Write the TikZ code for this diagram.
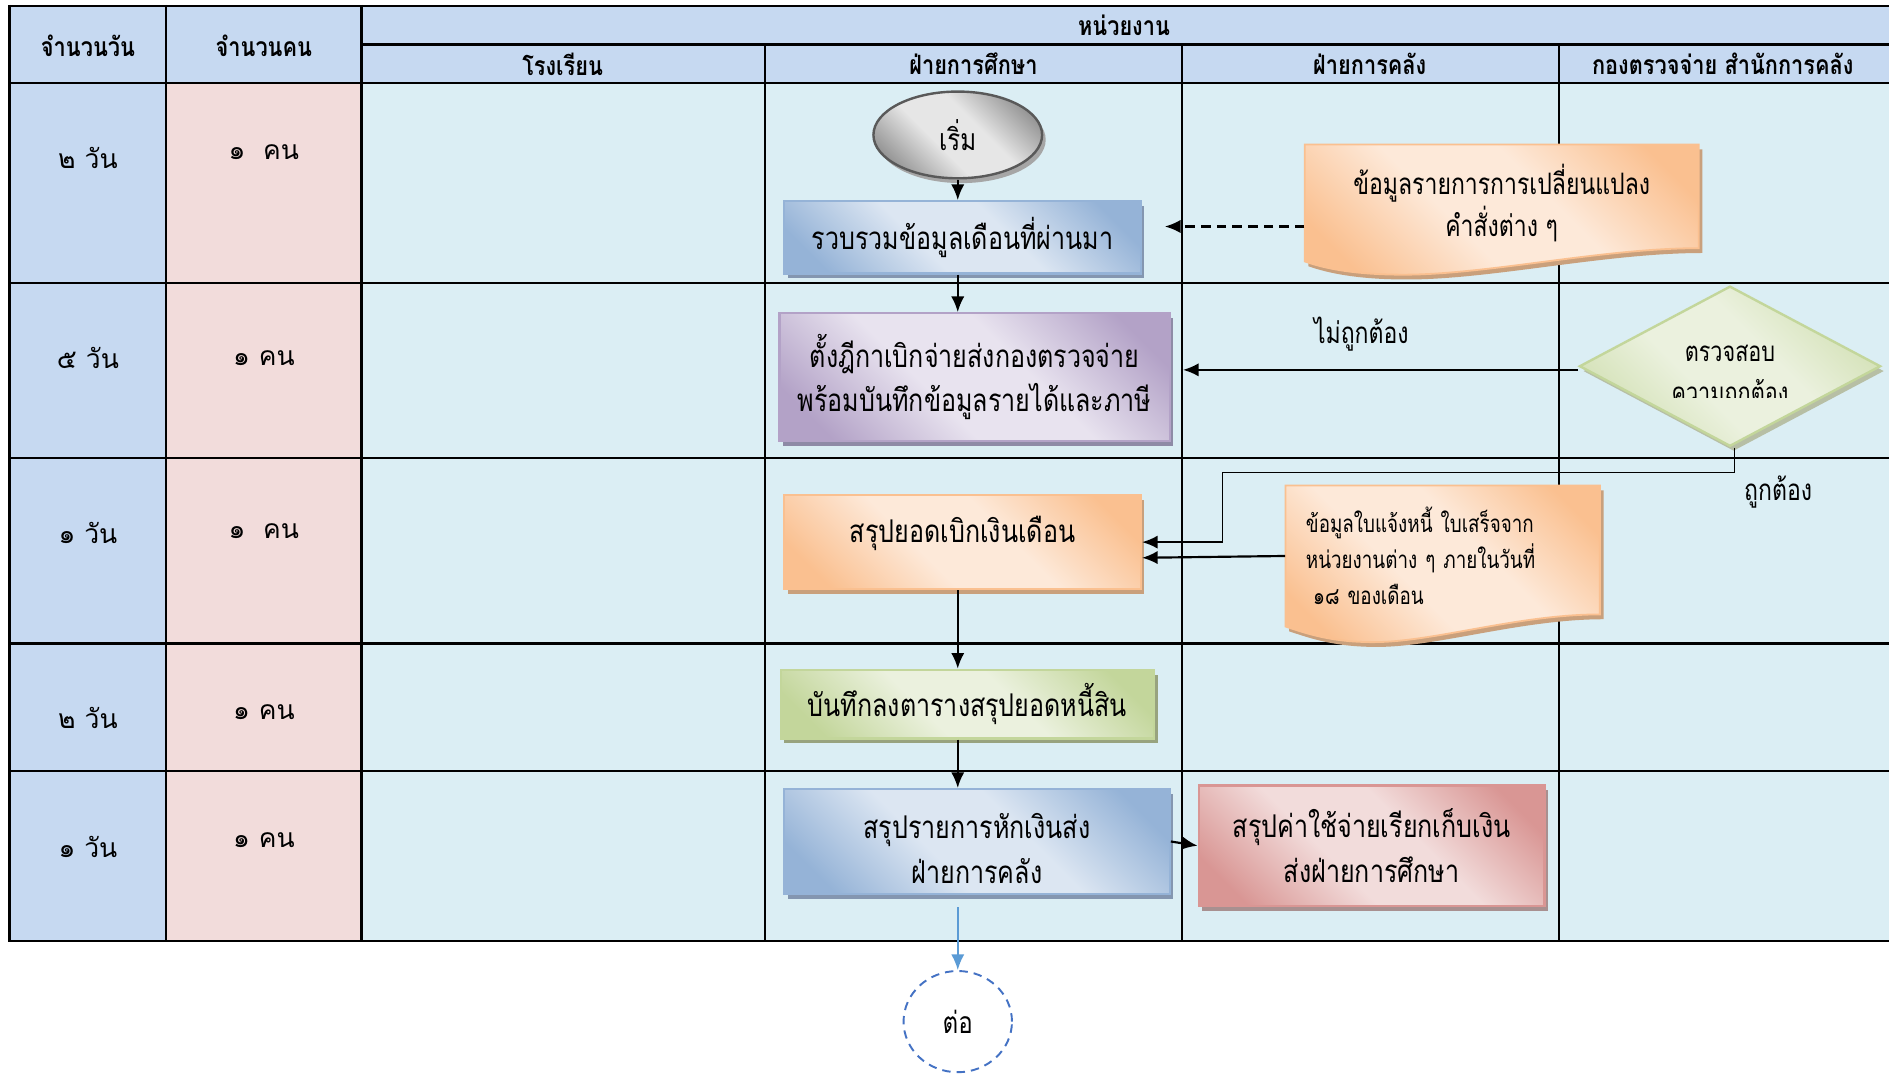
\documentclass[tikz,border=0pt]{standalone}
\usepackage{fontspec}
\newfontfamily\thfont[Script=Thai]{Loma}
\newfontfamily\thcond[Script=Thai,FakeStretch=0.78]{Loma}
\newfontfamily\thbox[Script=Thai,FakeStretch=0.80]{Loma}
\newfontfamily\thhead[Script=Thai,FakeStretch=0.82]{Loma}
\usetikzlibrary{shadows,arrows.meta,shapes.geometric,calc}
\definecolor{hdblue}{HTML}{C6D9F1}
\definecolor{pinkc}{HTML}{F2DCDB}
\definecolor{cyanc}{HTML}{DBEEF4}
\definecolor{bluelt}{HTML}{DCE6F2}
\definecolor{bluedk}{HTML}{95B3D7}
\definecolor{bluesh}{HTML}{8496B0}
\definecolor{purlt}{HTML}{E8E3EF}
\definecolor{purdk}{HTML}{B3A2C7}
\definecolor{pursh}{HTML}{8E8AA6}
\definecolor{orglt}{HTML}{FDE9D9}
\definecolor{orgdk}{HTML}{FAC090}
\definecolor{orgsh}{HTML}{C9A07C}
\definecolor{grnlt}{HTML}{EBF1DE}
\definecolor{grndk}{HTML}{C3D69B}
\definecolor{grnsh}{HTML}{98A37E}
\definecolor{redlt}{HTML}{F2DCDB}
\definecolor{reddk}{HTML}{D99694}
\definecolor{redsh}{HTML}{A89090}
\definecolor{graylt}{HTML}{E6E6E6}
\definecolor{graydk}{HTML}{8C8C8C}
\definecolor{arrblue}{HTML}{5B9BD5}
\definecolor{dashblue}{HTML}{4472C4}
\colorlet{diagA}{white}
\colorlet{diagB}{gray}
\pgfdeclarehorizontalshading[diagA,diagB]{diagsh}{100bp}{color(0bp)=(diagB); color(22bp)=(diagB); color(42bp)=(diagA); color(58bp)=(diagA); color(78bp)=(diagB); color(100bp)=(diagB)}
\tikzset{
  gridthick/.style={line width=2pt},
  gridthin/.style={line width=1.2pt},
  hdtext/.style={font=\fontsize{22}{25}\selectfont\thhead\bfseries},
  rowtext/.style={font=\fontsize{22}{25}\selectfont\thfont},
  boxfont/.style={font=\fontsize{26}{37}\selectfont\thbox},
  boxbase/.style={rectangle, line width=1.8pt, align=center, inner sep=0pt, boxfont},
  diag/.style 2 args={/utils/exec={\colorlet{diagA}{#1}\colorlet{diagB}{#2}},
    shade, shading=diagsh, shading angle=45},
  bluebox/.style={boxbase, draw=bluedk, diag={bluelt}{bluedk},
    general shadow={fill=bluesh, shadow xshift=3pt, shadow yshift=-4pt}},
  purbox/.style={boxbase, draw=purdk, diag={purlt}{purdk},
    general shadow={fill=pursh, shadow xshift=3pt, shadow yshift=-4pt}},
  orgbox/.style={boxbase, draw=orgdk, diag={orglt}{orgdk},
    general shadow={fill=orgsh, shadow xshift=3pt, shadow yshift=-4pt}},
  grnbox/.style={boxbase, draw=grndk, diag={grnlt}{grndk},
    general shadow={fill=grnsh, shadow xshift=3pt, shadow yshift=-4pt}},
  redbox/.style={boxbase, draw=reddk, diag={redlt}{reddk},
    general shadow={fill=redsh, shadow xshift=3pt, shadow yshift=-4pt}},
  docshape/.style={draw=orgdk, line width=1.5pt, diag={orglt}{orgdk},
    general shadow={fill=orgsh, shadow xshift=3pt, shadow yshift=-4pt}},
  arr/.style={line width=1.8pt, -{Latex[length=13pt,width=11pt]}},
  thinarr/.style={line width=1pt},
}
\begin{document}
\begin{tikzpicture}[x=1pt,y=-1pt]
\useasboundingbox (0,0) rectangle (1568,891);
% ---------- table backgrounds
\fill[hdblue] (8,5) rectangle (1580,69);
\fill[hdblue] (8,69) rectangle (138,781);
\fill[pinkc] (138,69) rectangle (300,781);
\fill[cyanc] (300,69) rectangle (1580,781);
% ---------- grid
\foreach \yy in {5,69,235,380,534,640,781}
  \draw[gridthick] (8,\yy) -- (1580,\yy);
\draw[gridthick] (300,37) -- (1580,37);
\foreach \xx in {8,138,300}
  \draw[gridthick] (\xx,4) -- (\xx,782);
\foreach \xx in {635,981,1294}
  \draw[gridthin] (\xx,37) -- (\xx,781);
% ---------- header texts
\node[hdtext] (hday) at (73,38) {จำนวนวัน};
\node[hdtext] (hppl) at (219,38) {จำนวนคน};
\node[hdtext] (hunit) at (933,21) {หน่วยงาน};
\node[hdtext] (hsch) at (467,53) {โรงเรียน};
\node[hdtext] (hedu) at (808,53) {ฝ่ายการศึกษา};
\node[hdtext] (hfin) at (1137,53) {ฝ่ายการคลัง};
\node[hdtext] (hchk) at (1430,53) {กองตรวจจ่าย สำนักการคลัง};
% ---------- row labels
\node[rowtext] (d1) at (73,131) {๒ วัน};
\node[rowtext] (d2) at (73,297) {๕ วัน};
\node[rowtext] (d3) at (73,442) {๑ วัน};
\node[rowtext] (d4) at (73,596) {๒ วัน};
\node[rowtext] (d5) at (73,703) {๑ วัน};
\node[rowtext] (p1) at (219,126) {๑~~คน};
\node[rowtext] (p2) at (219,297) {๑ คน};
\node[rowtext] (p3) at (219,441) {๑~~คน};
\node[rowtext] (p4) at (219,591) {๑ คน};
\node[rowtext] (p5) at (219,697) {๑ คน};
% ---------- documents (wavy bottom)
\path[docshape] (1083,120) -- (1410,120) -- (1410,206)
  .. controls (1330,206) and (1235,228) .. (1165,228)
  .. controls (1125,228) and (1100,223) .. (1083,217) -- cycle;
\node[font=\fontsize{24.5}{35}\selectfont\thcond, align=center, minimum width=327pt,
  minimum height=97pt, inner sep=0pt] (doc1) at (1246.5,168.5)
  {ข้อมูลรายการการเปลี่ยนแปลง\\คำสั่งต่าง ๆ};
\path[docshape] (1067,403) -- (1328,403) -- (1328,510)
  .. controls (1260,510) and (1190,533) .. (1140,533)
  .. controls (1105,533) and (1085,526) .. (1067,520) -- cycle;
\node[font=\fontsize{20}{30}\selectfont\thcond, align=left, text width=227pt,
  inner xsep=17pt, inner ysep=0pt, minimum height=117pt] (doc2) at (1197.5,461.5)
  {ข้อมูลใบแจ้งหนี้ ใบเสร็จจาก\\หน่วยงานต่าง ๆ ภายในวันที่\\\hspace*{6pt}๑๘ ของเดือน};
% ---------- process nodes
\node[ellipse, draw=black!65, line width=2pt, minimum width=140pt, minimum height=72pt,
  diag={graylt}{graydk}, general shadow={fill=black!35, shadow xshift=3pt, shadow yshift=-4pt},
  font=\fontsize{25}{28}\selectfont\thbox] (start) at (795,112) {เริ่ม};
\node[bluebox, minimum width=296pt, minimum height=60pt] (b1) at (799,197) {รวบรวมข้อมูลเดือนที่ผ่านมา};
\node[purbox, minimum width=324pt, minimum height=106pt] (b2) at (809,313)
  {ตั้งฎีกาเบิกจ่ายส่งกองตรวจจ่าย\\พร้อมบันทึกข้อมูลรายได้และภาษี};
\node[orgbox, minimum width=296pt, minimum height=78pt,
  label={[boxfont, yshift=7pt]center:สรุปยอดเบิกเงินเดือน}] (b3) at (799,450) {};
\node[grnbox, minimum width=310pt, minimum height=57pt] (b4) at (803,584.5) {บันทึกลงตารางสรุปยอดหนี้สิน};
\node[bluebox, minimum width=320pt, minimum height=87pt,
  label={[boxfont, align=center, yshift=-6pt]center:{สรุปรายการหักเงินส่ง\\ฝ่ายการคลัง}}] (b5) at (811,698.5) {};
\node[redbox, minimum width=287pt, minimum height=100pt] (b6) at (1138.5,702)
  {สรุปค่าใช้จ่ายเรียกเก็บเงิน\\ส่งฝ่ายการศึกษา};
\node[diamond, draw=grndk, line width=2pt, minimum width=250pt, minimum height=133pt,
  inner sep=0pt, diag={grnlt}{grndk!80},
  general shadow={fill=grnsh!70, shadow xshift=3pt, shadow yshift=-4pt}] (dia) at (1436,304) {};
\begin{scope}
  \clip (1300,230) rectangle (1570,330);
  \node[font=\fontsize{23}{34}\selectfont\thcond, align=center] (diatext) at (1436,313)
    {ตรวจสอบ\\ความถูกต้อง};
\end{scope}
\node[ellipse, draw=dashblue, line width=1.6pt, dash pattern=on 7pt off 5pt, fill=white,
  minimum width=90pt, minimum height=84pt, font=\fontsize{25}{28}\selectfont\thbox] (cont) at (795,848) {ต่อ};
% ---------- labels
\node[font=\fontsize{24.5}{28}\selectfont\thcond] (lno) at (1130,277) {ไม่ถูกต้อง};
\node[font=\fontsize{24.5}{28}\selectfont\thcond] (lyes) at (1476,408) {ถูกต้อง};
% ---------- connectors
\coordinate (d1a) at ([yshift=-19.5pt]doc1.west);
\coordinate (b1e) at ([xshift=19pt]b1.east);
\coordinate (dwa) at ([yshift=-3pt]dia.west);
\coordinate (dsx) at ([xshift=4pt]dia.south);
\coordinate (c2) at (1015,392);
\coordinate (b3e) at ([yshift=-13pt]b3.east);
\draw[arr] (start.south) -- (start.south |- b1.north);
\draw[arr, dash pattern=on 8pt off 5pt] (d1a) -- (b1e |- d1a);
\draw[arr] (b1.south -| start.south) -- (start.south |- b2.north);
\draw[arr, shorten >=10pt] (dwa) -- (dwa -| b2.east);
\draw[thinarr] (dsx) -- (dsx |- c2) -- (c2) -- (c2 |- b3.east);
\draw[arr] (c2 |- b3.east) -- (b3.east);
\draw[arr] (doc2.west) -- (b3e);
\draw[arr] (b3.south -| start.south) -- (start.south |- b4.north);
\draw[arr] (b4.south -| start.south) -- (start.south |- b5.north);
\draw[arr] (b5.east) -- (b6.west);
\coordinate (b5s) at ([yshift=-10pt]b5.south -| cont.north);
\draw[line width=1.6pt, arrblue, -{Latex[length=13pt,width=11pt]}] (b5s) -- (cont.north);
\end{tikzpicture}
\end{document}
